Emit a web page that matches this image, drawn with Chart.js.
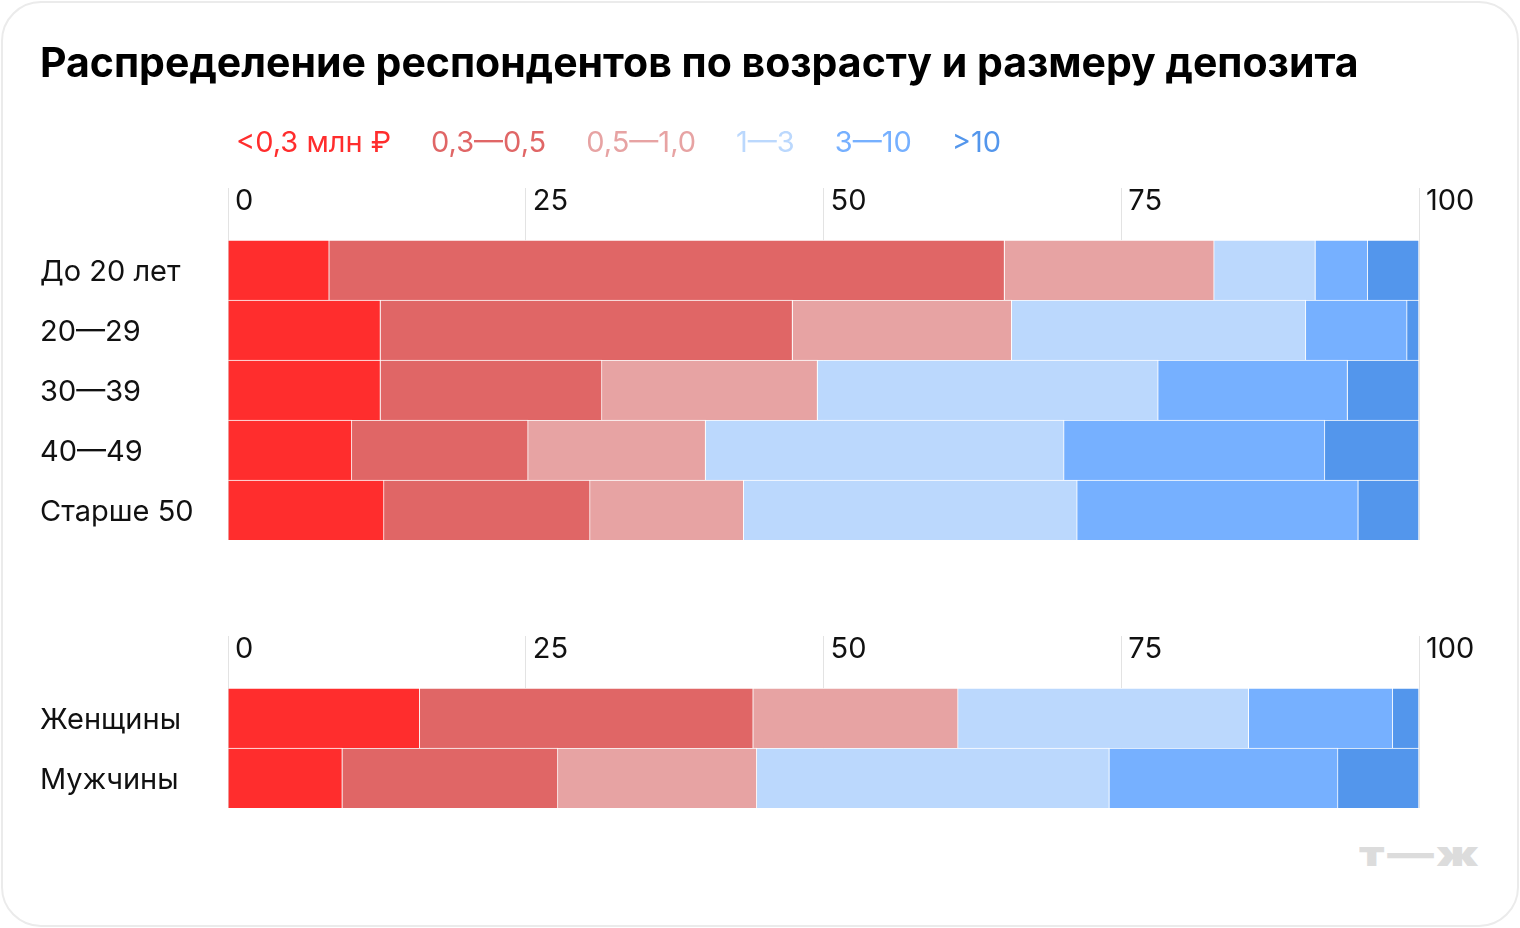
<!DOCTYPE html>
<html><head><meta charset="utf-8">
<script src="https://cdn.jsdelivr.net/npm/chart.js@4.4.1/dist/chart.umd.min.js"></script>
<style>
html,body{margin:0;padding:0;background:#fff;}
body{width:1520px;height:928px;position:relative;overflow:hidden;font-family:Inter,"Noto Sans",sans-serif;}
.card{position:absolute;left:1px;top:1px;width:1514px;height:922px;border:2px solid #ebebeb;border-radius:40px;}
#c1{position:absolute;left:0;top:0;}
#c2{position:absolute;left:0;top:560px;}
.logo{position:absolute;left:1359px;top:833px;font:900 35px Inter,sans-serif;line-height:40px;color:#dcdcdc;letter-spacing:2px;transform-origin:0 0;transform:scaleX(1.33);white-space:nowrap;}
</style></head>
<body>
<div class="card"></div>
<canvas id="c1" width="1520" height="561"></canvas>
<canvas id="c2" width="1520" height="270"></canvas>
<div class="logo">т—ж</div>
<script>
const titleText = 'Распределение респондентов по возрасту и размеру депозита';
const seriesLabels = ['<0,3 млн ₽', '0,3—0,5', '0,5—1,0', '1—3', '3—10', '>10'];
const seriesColors = ['#ff2d2d', '#e06666', '#e7a3a3', '#bbd8fd', '#76b0ff', '#5396ec'];
const xTicks = [0, 25, 50, 75, 100];

const ageCategories = ['До 20 лет', '20—29', '30—39', '40—49', 'Старше 50'];
const ageLt03  = [8.5, 12.8, 12.8, 10.4, 13.1];
const age03_05 = [56.7, 34.6, 18.6, 14.8, 17.3];
const age05_10 = [17.6, 18.4, 18.1, 14.9, 12.9];
const age1_3   = [8.5, 24.7, 28.6, 30.1, 28.0];
const age3_10  = [4.4, 8.5, 15.9, 21.9, 23.6];
const ageGt10  = [4.3, 1.0, 6.0, 7.9, 5.1];

const genderCategories = ['Женщины', 'Мужчины'];
const genLt03  = [16.1, 9.6];
const gen03_05 = [28.0, 18.1];
const gen05_10 = [17.2, 16.7];
const gen1_3   = [24.4, 29.6];
const gen3_10  = [12.1, 19.2];
const genGt10  = [2.2, 6.8];

const FONT = 'Inter';
const TXT = 29;

const legendShift = {
  id: 'legendShift',
  afterLayout(chart, args, opts) {
    const lg = chart.legend;
    if (!lg || opts.left == null) return;
    const dx = opts.left - lg.left;
    lg.left += dx; lg.right += dx;
  }
};

function makeDatasets(arrs) {
  return arrs.map((d, i) => ({
    label: seriesLabels[i],
    data: d,
    backgroundColor: seriesColors[i],
    borderColor: 'rgba(255,255,255,0.9)',
    borderWidth: {top: 1, right: 1, bottom: 0, left: 0},
    borderSkipped: false,
    barPercentage: 1,
    categoryPercentage: 1
  }));
}

function makeChart(id, labels, arrs, withHeader, padding, axisH) {
  return new Chart(document.getElementById(id), {
    type: 'bar',
    data: { labels: labels, datasets: makeDatasets(arrs) },
    plugins: [legendShift],
    options: {
      indexAxis: 'y',
      responsive: false,
      animation: false,
      events: [],
      layout: { padding: padding },
      scales: {
        x: {
          type: 'linear', position: 'top', min: 0, max: 100, stacked: true, z: 1,
          afterBuildTicks(s) { s.ticks = xTicks.map(v => ({value: v})); },
          afterFit(s) { s.height = axisH; },
          ticks: { align: 'start', labelOffset: 7, padding: -31, crossAlign: 'near',
                   font: {family: FONT, size: TXT}, color: '#111' },
          grid: { color: 'rgba(0,0,0,0.11)', lineWidth: 1, drawTicks: true, tickLength: 52,
                  tickColor: 'rgba(0,0,0,0.11)' },
          border: { display: false }
        },
        y: {
          type: 'category', stacked: true,
          afterFit(s) { s.width = 188; },
          grid: { display: false },
          border: { display: false },
          ticks: { crossAlign: 'far', labelOffset: 2, padding: 0, font: {family: FONT, size: TXT}, color: '#111' }
        }
      },
      plugins: {
        tooltip: { enabled: false },
        legendShift: { left: withHeader ? 196 : null },
        title: {
          display: withHeader, text: titleText, align: 'start', color: '#000',
          font: {family: FONT, size: 41, weight: 'bold'},
          padding: {top: 0, bottom: 14}
        },
        legend: {
          display: withHeader, position: 'top', align: 'start',
          labels: {
            boxWidth: 0, padding: 25.5,
            font: {family: FONT, size: TXT},
            generateLabels(chart) {
              return chart.data.datasets.map((ds, i) => ({
                text: ds.label, fillStyle: 'rgba(0,0,0,0)', strokeStyle: 'rgba(0,0,0,0)',
                lineWidth: 0, fontColor: ds.backgroundColor, hidden: false, datasetIndex: i
              }));
            }
          }
        }
      }
    }
  });
}

makeChart('c1', ageCategories, [ageLt03, age03_05, age05_10, age1_3, age3_10, ageGt10], true,
  {left: 40, right: 101, top: 40, bottom: 21}, 72.3);
makeChart('c2', genderCategories, [genLt03, gen03_05, gen05_10, gen1_3, gen3_10, genGt10], false,
  {left: 40, right: 101, top: 52, bottom: 22}, 76);
</script>
</body></html>
